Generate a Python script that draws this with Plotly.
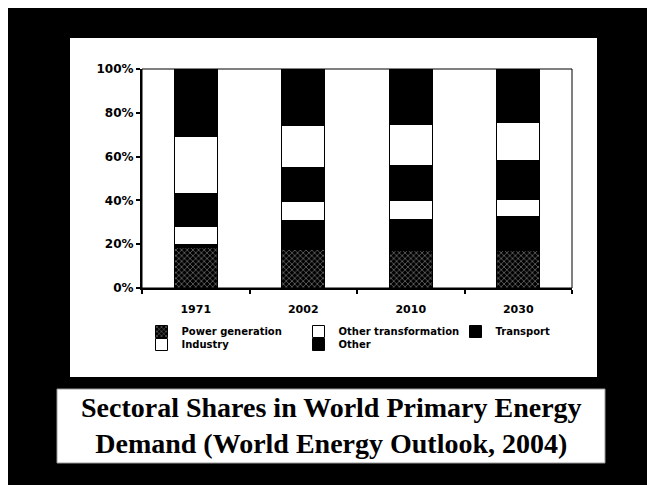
import plotly.graph_objects as go

# ---- data (% of world primary energy demand) ----
years = ["1971", "2002", "2010", "2030"]
power_generation = [20.0, 31.0, 31.5, 32.5]
power_generation_hatched_part = [18.5, 17.5, 17.0, 17.0]   # lower part that prints hatched
other_transformation = [8.0, 8.5, 8.5, 8.0]
transport = [15.0, 15.5, 16.0, 17.5]
industry = [26.0, 19.0, 18.5, 17.5]
other = [31.0, 26.0, 25.5, 24.5]
y_ticks = [0, 20, 40, 60, 80, 100]
y_tick_labels = ["0%", "20%", "40%", "60%", "80%", "100%"]

power_generation_dark_part = [p - h for p, h in zip(power_generation, power_generation_hatched_part)]

# ---- geometry (pixels of the 647x485 page) ----
W, H = 647, 485
L, R, T, B = 142, 572, 69, 288          # plot area


def px(x):
    return (x - L) / (R - L)


def py(y):
    return (B - y) / (B - T)


SANS = "DejaVu Sans"
line = dict(color="black", width=1)

fig = go.Figure()
fig.add_trace(go.Bar(
    x=years, y=power_generation_hatched_part, name="Power generation",
    marker=dict(color="black", line=line,
                pattern=dict(shape="x", fgcolor="white", bgcolor="black", size=4, solidity=0.3)),
    legend="legend", legendgroup="pg"))
fig.add_trace(go.Bar(
    x=years, y=power_generation_dark_part, name="Power generation",
    marker=dict(color="black", line=line), showlegend=False, legendgroup="pg"))
fig.add_trace(go.Bar(
    x=years, y=other_transformation, name="Other transformation",
    marker=dict(color="white", line=line), legend="legend"))
fig.add_trace(go.Bar(
    x=years, y=transport, name="Transport",
    marker=dict(color="black", line=line), legend="legend"))
fig.add_trace(go.Bar(
    x=years, y=industry, name="Industry",
    marker=dict(color="white", line=line), legend="legend2"))
fig.add_trace(go.Bar(
    x=years, y=other, name="Other",
    marker=dict(color="black", line=line), legend="legend2"))

legend_common = dict(
    orientation="h", xanchor="left", yanchor="top", x=px(141.5),
    bgcolor="rgba(0,0,0,0)", borderwidth=0, traceorder="normal",
    font=dict(family=SANS, size=10, color="black", weight="bold"),
    itemwidth=30, entrywidth=112, entrywidthmode="pixels", tracegroupgap=0,
)

shapes = [
    # black page
    dict(type="rect", xref="paper", yref="paper", x0=px(8), x1=px(700), y0=py(540), y1=py(8),
         fillcolor="black", line=dict(width=0), layer="below"),
    # white chart panel
    dict(type="rect", xref="paper", yref="paper", x0=px(70), x1=px(597), y0=py(377), y1=py(38),
         fillcolor="white", line=dict(width=0), layer="below"),
    # title box
    dict(type="rect", xref="paper", yref="paper", x0=px(57), x1=px(605), y0=py(463), y1=py(389),
         fillcolor="white", line=dict(width=1, color="#999"), layer="below"),
    # thin plot frame
    dict(type="rect", xref="x domain", yref="y domain", x0=0, x1=1, y0=0, y1=1,
         fillcolor="rgba(0,0,0,0)", line=dict(width=1, color="black"), layer="above"),
]

title_font = dict(family="Liberation Serif", size=28, color="black", weight="bold")
annotations = [
    dict(text="Sectoral Shares in World Primary Energy<br>Demand (World Energy Outlook, 2004)",
         xref="paper", yref="paper", x=px(331), y=py(425), xanchor="center", yanchor="middle",
         align="center", showarrow=False, font=title_font),
]

fig.update_layout(
    width=W, height=H, autosize=False,
    margin=dict(l=L, r=W - R, t=T, b=H - B, pad=0),
    paper_bgcolor="white", plot_bgcolor="rgba(0,0,0,0)",
    barmode="stack", bargap=0.6,
    showlegend=True,
    legend=dict(legend_common, y=py(317)),
    legend2=dict(legend_common, y=py(330)),
    shapes=shapes, annotations=annotations,
    xaxis=dict(type="category", categoryorder="array", categoryarray=years,
               showline=True, linecolor="black", linewidth=2, showgrid=False, zeroline=False,
               ticks="outside", tickson="boundaries", ticklen=4, tickwidth=1.5, tickcolor="black",
               ticklabelstandoff=10,
               tickfont=dict(family=SANS, size=11, color="black", weight="bold")),
    yaxis=dict(range=[0, 100], tickvals=y_ticks, ticktext=y_tick_labels,
               showline=True, linecolor="black", linewidth=2, showgrid=False, zeroline=False,
               ticks="outside", ticklen=4, tickwidth=1.5, tickcolor="black",
               tickfont=dict(family=SANS, size=12, color="black", weight="bold")),
)

fig.write_html("out.html")
